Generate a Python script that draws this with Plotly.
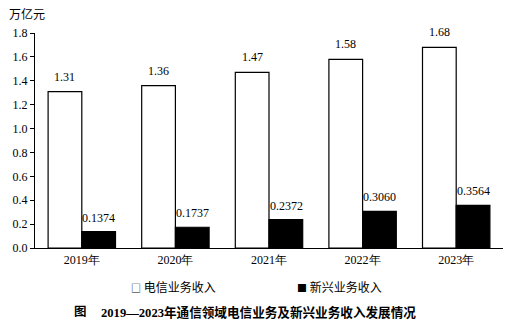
import plotly.graph_objects as go

years = ["2019年", "2020年", "2021年", "2022年", "2023年"]
telecom = [1.31, 1.36, 1.47, 1.58, 1.68]
emerging = [0.1374, 0.1737, 0.2372, 0.3060, 0.3564]
telecom_labels = ["1.31", "1.36", "1.47", "1.58", "1.68"]
emerging_labels = ["0.1374", "0.1737", "0.2372", "0.3060", "0.3564"]
yticks = [0.0, 0.2, 0.4, 0.6, 0.8, 1.0, 1.2, 1.4, 1.6, 1.8]

serif = "Liberation Serif, Times New Roman, serif"
mixed = "Liberation Serif, Noto Sans CJK SC, serif"
cjk = "Noto Sans CJK SC, sans-serif"

L, R, T, B = 33, 21, 33, 82
W, H = 524, 330
pw, ph = W - L - R, H - T - B


def px(x):
    return (x - L) / pw


def py(y):
    return (H - B - y) / ph


fig = go.Figure()
fig.add_trace(go.Bar(x=years, y=telecom, name="电信业务收入", showlegend=False,
                     marker=dict(color="white", line=dict(color="black", width=1.2))))
fig.add_trace(go.Bar(x=years, y=emerging, name="新兴业务收入", showlegend=False,
                     marker=dict(color="black", line=dict(color="black", width=1.2))))

for i, y in enumerate(years):
    fig.add_annotation(x=y, y=telecom[i], text=telecom_labels[i], xref="x", yref="y",
                       showarrow=False, yshift=15, xshift=-17,
                       font=dict(family=serif, size=12, color="black"))
    fig.add_annotation(x=y, y=emerging[i], text=emerging_labels[i], xref="x", yref="y",
                       showarrow=False, yshift=14, xshift=17,
                       font=dict(family=serif, size=12, color="black"))

fig.add_annotation(x=px(5), y=py(13), xref="paper", yref="paper", text="万亿元",
                   showarrow=False, xanchor="left", yanchor="middle",
                   font=dict(family=cjk, size=12, color="black"))

# legend
fig.add_annotation(x=px(127), y=py(286), xref="paper", yref="paper", showarrow=False,
                   xanchor="left", yanchor="middle",
                   text="<span style='font-size:10px'>□</span> 电信业务收入",
                   font=dict(family=cjk, size=12, color="black"))
fig.add_annotation(x=px(294), y=py(286), xref="paper", yref="paper", showarrow=False,
                   xanchor="left", yanchor="middle",
                   text="<span style='font-size:10px'>■</span> 新兴业务收入",
                   font=dict(family=cjk, size=12, color="black"))

# caption
fig.add_annotation(x=px(70), y=py(312), xref="paper", yref="paper", showarrow=False,
                   xanchor="left", yanchor="middle", text="<b>图</b>",
                   font=dict(family=mixed, size=12.5, color="black"))
fig.add_annotation(x=px(97), y=py(312), xref="paper", yref="paper", showarrow=False,
                   xanchor="left", yanchor="middle",
                   text="<b>2019—2023年通信领域电信业务及新兴业务收入发展情况</b>",
                   font=dict(family=mixed, size=12.6, color="black"))

fig.update_layout(
    width=W, height=H,
    margin=dict(l=L, r=R, t=T, b=B),
    plot_bgcolor="white", paper_bgcolor="white",
    barmode="group", bargap=0.28, bargroupgap=0,
    showlegend=False,
    xaxis=dict(showline=True, linecolor="black", linewidth=1.2, ticks="",
               tickfont=dict(family=serif, size=12, color="black"), showgrid=False),
    yaxis=dict(range=[0, 1.8], tickvals=yticks, ticktext=[f"{v:.1f}" for v in yticks],
               showline=True, linecolor="black", linewidth=1.2, ticks="outside",
               ticklen=4, tickcolor="black", showgrid=False, zeroline=False,
               tickfont=dict(family=serif, size=12, color="black")),
)
fig.write_html("out.html")
